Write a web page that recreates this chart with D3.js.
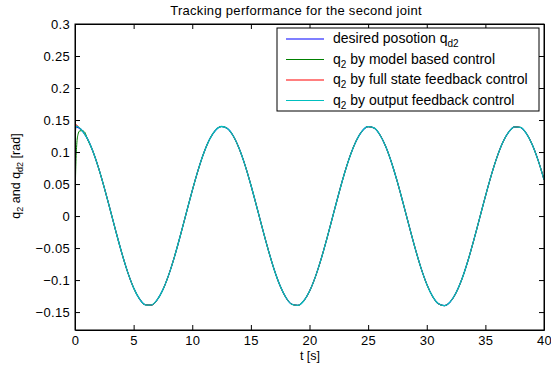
<!DOCTYPE html>
<html><head><meta charset="utf-8">
<script src="https://cdn.jsdelivr.net/npm/d3@7"></script>
<style>body{margin:0;background:#fff}text{font-family:"Liberation Sans",Arial,sans-serif;fill:#000}</style>
</head><body><svg id="c" width="551" height="371"></svg>
<script>
// time grid (s), sampled every 0.5 s
const tGrid = d3.range(0, 40.001, 0.5);
// desired position q_d2 (rad)
const desired = [0.1400,0.1356,0.1229,0.1024,0.0756,0.0441,0.0099,-0.0250,-0.0583,-0.0880,-0.1122,-0.1294,-0.1386,-0.1392,-0.1311,-0.1149,-0.0915,-0.0625,-0.0295,0.0053,0.0397,0.0717,0.0992,0.1206,0.1344,0.1399,0.1367,0.1250,0.1055,0.0796,0.0485,0.0145,-0.0204,-0.0539,-0.0843,-0.1093,-0.1276,-0.1379,-0.1396,-0.1327,-0.1175,-0.0950,-0.0666,-0.0340,0.0006,0.0352,0.0677,0.0959,0.1181,0.1331,0.1397,0.1376,0.1270,0.1086,0.0833,0.0529,0.0191,-0.0158,-0.0497,-0.0806,-0.1064,-0.1256,-0.1370,-0.1399,-0.1341,-0.1199,-0.0984,-0.0706,-0.0385,-0.0040,0.0307,0.0635,0.0924,0.1156,0.1315,0.1393,0.1384,0.1289,0.1114,0.0870,0.0571];
// initial transients (t, value) of the controlled responses; after these they follow the desired curve
const modelT = [0,0.03,0.08,0.15,0.25,0.4,0.6,0.85];
const modelV = [0.0,0.045,0.085,0.112,0.127,0.133,0.1335,0.1305];
const fullT  = [0,0.02,0.05,0.1,0.2,0.35];
const fullV  = [0.0,0.09,0.135,0.1425,0.1415,0.1385];
const outT   = [0,0.015,0.04,0.1,0.25];
const outV   = [0.0,0.10,0.136,0.1405,0.1395];

const xTicks = [0,5,10,15,20,25,30,35,40];
const yTicks = [-0.15,-0.1,-0.05,0,0.05,0.1,0.15,0.2,0.25,0.3];
const legendLabels = [["desired posotion q","d2"],["q","2"," by model based control"],["q","2"," by full state feedback control"],["q","2"," by output feedback control"]];
const colors = ["#0000ff","#008000","#ff0000","#00bfbf"];
const widths = [1.1,1.0,1.0,1.3];

const svg = d3.select("#c");
const L=75,R=544,T=24,B=330;
const x = d3.scaleLinear().domain([0,40]).range([L,R]);
const y = d3.scaleLinear().domain([-0.178,0.3]).range([B,T]);

const base = tGrid.map((t,i)=>[t,desired[i]]);
function withTransient(ts,vs){
  const last = ts[ts.length-1];
  return ts.map((t,i)=>[t,vs[i]]).concat(base.filter(d=>d[0]>last));
}
const seriesData = [base, withTransient(modelT,modelV), withTransient(fullT,fullV), withTransient(outT,outV)];

const line = d3.line().x(d=>x(d[0])).y(d=>y(d[1])).curve(d3.curveMonotoneX);
svg.append("clipPath").attr("id","cp").append("rect").attr("x",L).attr("y",T).attr("width",R-L).attr("height",B-T);
const g = svg.append("g").attr("clip-path","url(#cp)");
seriesData.forEach((d,i)=>{
  g.append("path").attr("d",line(d)).attr("fill","none").attr("stroke",colors[i]).attr("stroke-width",widths[i]);
});

// axes with inward ticks
const fmt = v => { let s = d3.format(".2f")(Math.abs(v)).replace(/0+$/,"").replace(/\.$/,""); return (v<0?"\u2212":"")+s; };
const ax = svg.append("g");
ax.append("g").attr("transform",`translate(0,${B})`).call(d3.axisBottom(x).tickValues(xTicks).tickSizeInner(-5).tickSizeOuter(0).tickPadding(6));
ax.append("g").attr("transform",`translate(0,${T})`).call(d3.axisTop(x).tickValues(xTicks).tickSizeInner(-5).tickSizeOuter(0).tickFormat(""));
ax.append("g").attr("transform",`translate(${L},0)`).call(d3.axisLeft(y).tickValues(yTicks).tickSizeInner(-5).tickSizeOuter(0).tickPadding(5).tickFormat(fmt));
ax.append("g").attr("transform",`translate(${R},0)`).call(d3.axisRight(y).tickValues(yTicks).tickSizeInner(-5).tickSizeOuter(0).tickFormat(""));
ax.selectAll(".domain").attr("stroke","#000");
ax.selectAll(".tick line").attr("stroke","#000");
ax.selectAll("text").attr("font-family","Liberation Sans, Arial, sans-serif").attr("fill","#000").attr("font-size",13).attr("letter-spacing","0.3px");
svg.append("rect").attr("x",L).attr("y",T).attr("width",R-L).attr("height",B-T).attr("fill","none").attr("stroke","#000").attr("stroke-width",1);

// title and labels
svg.append("text").attr("x",296).attr("y",15).attr("text-anchor","middle").attr("font-size",13).attr("letter-spacing","0.3px").text("Tracking performance for the second joint");
svg.append("text").attr("x",310).attr("y",360).attr("text-anchor","middle").attr("font-size",12.5).text("t [s]");
const yl = svg.append("text").attr("transform",`translate(20,176) rotate(-90)`).attr("text-anchor","middle").attr("font-size",12.5);
yl.append("tspan").text("q");
yl.append("tspan").attr("font-size",9).attr("dy",3).text("2");
yl.append("tspan").attr("dy",-3).text(" and q");
yl.append("tspan").attr("font-size",9).attr("dy",3).text("d2");
yl.append("tspan").attr("dy",-3).text(" [rad]");

// legend
const lg = svg.append("g");
lg.append("rect").attr("x",277).attr("y",28).attr("width",262).attr("height",83).attr("fill","#fff").attr("stroke","#000");
legendLabels.forEach((lab,i)=>{
  const yy = 39 + i*20.5;
  lg.append("line").attr("x1",286).attr("x2",324).attr("y1",yy).attr("y2",yy).attr("stroke",colors[i]).attr("stroke-width",1.1);
  const tx = lg.append("text").attr("x",333).attr("y",yy+4).attr("font-size",14);
  tx.append("tspan").text(lab[0]);
  tx.append("tspan").attr("font-size",10).attr("dy",4).text(lab[1]);
  if(lab[2]) tx.append("tspan").attr("dy",-4).text(lab[2]);
});
</script></body></html>
